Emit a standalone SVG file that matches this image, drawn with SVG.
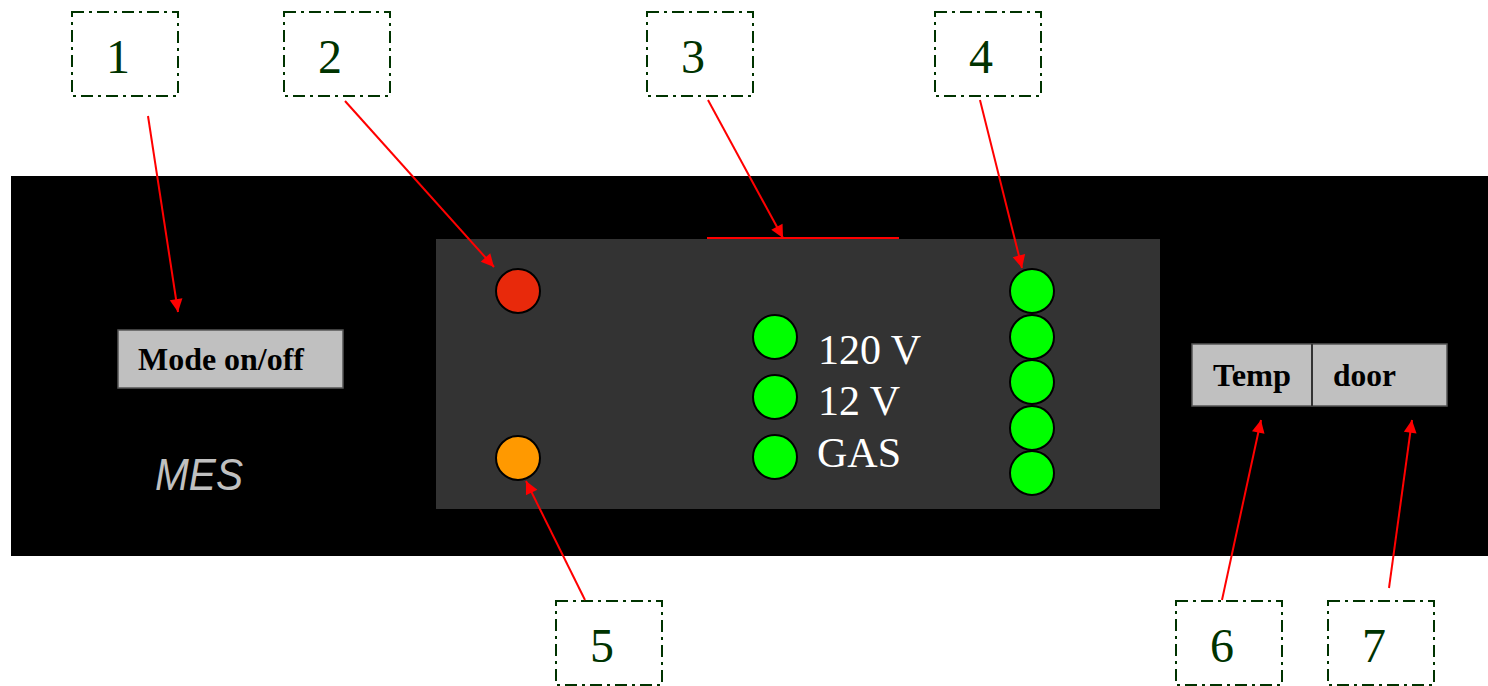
<svg xmlns="http://www.w3.org/2000/svg" width="1488" height="686" viewBox="0 0 1488 686">
<style>
.box{fill:#fff;stroke:#003300;stroke-width:2;stroke-dasharray:12,5,3,5}
.num{font-family:"Liberation Serif",serif;font-size:48px;fill:#003300;text-anchor:middle}
.btn{fill:#c0c0c0;stroke:#555;stroke-width:1.5}
.btxt{font-family:"Liberation Serif",serif;font-weight:bold;font-size:32px;fill:#000}
.led{stroke:#000;stroke-width:2}
.g{fill:#00ff00}
.lbl{font-family:"Liberation Serif",serif;font-size:42px;fill:#fff}
.arr{stroke:#ff0000;stroke-width:2;fill:none;marker-end:url(#ah)}
</style>
<defs>
<marker id="ah" viewBox="0 0 10 10" refX="10" refY="5" markerWidth="8" markerHeight="8" markerUnits="userSpaceOnUse" orient="auto" overflow="visible">
<path d="M0,0 L10,5 L0,10 z" fill="#ff0000" transform="scale(1.6) translate(-3.75,-1.9)"/>
</marker>
</defs>
<rect width="1488" height="686" fill="#fff"/>
<g id="panel">
<rect x="11" y="176" width="1477" height="380" fill="#000"/>
<rect x="436" y="239" width="724" height="270" fill="#333333"/>
<line x1="707" y1="238" x2="899" y2="238" stroke="#ff0000" stroke-width="2"/>
</g>
<g id="mode"><rect class="btn" x="118" y="330" width="225" height="58"/><text class="btxt" x="138" y="370" textLength="166" lengthAdjust="spacingAndGlyphs">Mode on/off</text></g>
<g id="mes"><text x="155" y="490" font-family="Liberation Sans,sans-serif" font-style="italic" font-size="44" fill="#c0c0c0" textLength="88" lengthAdjust="spacingAndGlyphs">MES</text></g>
<g id="red-led"><circle class="led" cx="518" cy="291" r="22" fill="#e8290b"/></g>
<g id="orange-led"><circle class="led" cx="518" cy="458" r="22" fill="#ff9900"/></g>
<g id="power">
<circle class="led g" cx="775" cy="337" r="22"/>
<circle class="led g" cx="775" cy="397" r="22"/>
<circle class="led g" cx="775" cy="457" r="22"/>
<text class="lbl" x="818" y="364">120 V</text>
<text class="lbl" x="818" y="415">12 V</text>
<text class="lbl" x="817" y="467">GAS</text>
</g>
<g id="level">
<circle class="led g" cx="1032" cy="291" r="22"/>
<circle class="led g" cx="1032" cy="337" r="22"/>
<circle class="led g" cx="1032" cy="382" r="22"/>
<circle class="led g" cx="1032" cy="428" r="22"/>
<circle class="led g" cx="1032" cy="473" r="22"/>
</g>
<g id="tempdoor">
<rect class="btn" x="1192" y="344" width="255" height="62"/>
<line x1="1312" y1="344" x2="1312" y2="406" stroke="#333" stroke-width="2"/>
<text class="btxt" x="1213" y="386" textLength="78" lengthAdjust="spacingAndGlyphs">Temp</text>
<text class="btxt" x="1333" y="386" textLength="63" lengthAdjust="spacingAndGlyphs">door</text>
</g>
<g id="c1"><rect class="box" x="72" y="12" width="106" height="84"/><text class="num" x="118" y="73">1</text></g>
<g id="c2"><rect class="box" x="284" y="12" width="106" height="84"/><text class="num" x="330" y="73">2</text></g>
<g id="c3"><rect class="box" x="647" y="12" width="106" height="84"/><text class="num" x="693" y="73">3</text></g>
<g id="c4"><rect class="box" x="935" y="12" width="106" height="84"/><text class="num" x="981" y="73">4</text></g>
<g id="c5"><rect class="box" x="556" y="601" width="106" height="84"/><text class="num" x="602" y="662">5</text></g>
<g id="c6"><rect class="box" x="1176" y="601" width="106" height="84"/><text class="num" x="1222" y="662">6</text></g>
<g id="c7"><rect class="box" x="1328" y="601" width="106" height="84"/><text class="num" x="1374" y="662">7</text></g>
<g id="connectors">
<line class="arr" x1="148" y1="116" x2="178" y2="312"/>
<line class="arr" x1="345" y1="101" x2="494" y2="267"/>
<line class="arr" x1="708" y1="100" x2="783" y2="238"/>
<line class="arr" x1="980" y1="100" x2="1022" y2="268"/>
<line class="arr" x1="585" y1="600" x2="526" y2="481"/>
<line class="arr" x1="1222" y1="600" x2="1261" y2="420"/>
<line class="arr" x1="1389" y1="588" x2="1412" y2="420"/>
</g>
</svg>
